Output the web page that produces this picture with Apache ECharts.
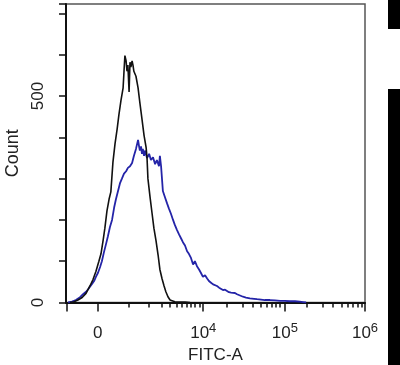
<!DOCTYPE html>
<html>
<head>
<meta charset="utf-8">
<script src="https://cdn.jsdelivr.net/npm/echarts@6/dist/echarts.min.js"></script>
<style>
html,body{margin:0;padding:0;background:#fff;}
#chart{width:400px;height:365px;}
</style>
</head>
<body>
<div id="chart"></div>
<script>
// Display channel (biexponential scale, 0..1000) and counts
var blackX = [13,27,40,54,67,80,90,100,110,117,124,130,137,144,150,157,164,171,177,184,191,194,197,201,204,207,211,214,217,221,224,227,234,241,247,254,261,268,271,274,281,288,294,301,308,314,321,328,334,341,348,354,364,381,398,415];
var blackY = [0,2,6,12,22,40,55,75,100,118,150,180,222,250,268,340,385,420,455,490,520,560,598,585,560,575,510,582,570,585,575,560,548,520,484,445,405,375,350,300,256,215,180,150,115,80,58,40,26,14,6,3,2,1,1,0];

var blueX = [7,20,33,47,57,67,74,80,87,94,100,107,114,120,127,134,140,147,154,161,167,174,181,187,194,201,207,214,221,227,234,241,244,247,251,254,257,261,264,271,278,284,291,298,304,311,314,318,324,331,338,344,351,358,364,371,378,385,391,398,405,411,418,425,431,438,445,451,458,465,472,478,485,492,498,505,512,518,525,532,538,545,552,558,565,572,582,592,602,615,629,639,652,665,682,699,716,732,749,766,782,793,803];
var blueY = [0,2,6,13,20,26,32,36,45,52,62,72,86,100,122,142,160,183,200,230,250,270,290,300,312,318,326,330,338,355,372,394,380,368,378,360,372,355,368,350,360,345,352,335,345,330,355,330,270,255,240,228,215,200,188,176,165,155,146,138,124,118,108,92,100,88,80,72,62,66,58,52,48,44,46,40,36,33,30,31,28,25,24,22,23,20,17,14,12,10,9,8,7,6,6,5,4,4,3,3,2,1,0];

var majorTicks = [2,106,459,732,1000];
var labelTicks = [106,459,732,1000];
var tickLabels = ['0','10|4','10|5','10|6'];
var minorTicks = [211,278,320,348,370,387,404,418,431,446,537,591,626,652,671,688,702,716,805,860,893,922,943,960,977,990];
var yLabels = {0:'0', 500:'500'};

function pair(xs, ys){ var o=[]; for(var i=0;i<xs.length;i++) o.push([xs[i],ys[i]]); return o; }

var font = 'Liberation Sans, Arial, sans-serif';
var chart = echarts.init(document.getElementById('chart'), null, {renderer:'canvas'});
chart.setOption({
  animation:false,
  backgroundColor:'#fff',
  grid:{left:66,top:4,width:299,height:298.5,show:true,borderColor:'#555',borderWidth:1.5,backgroundColor:'transparent',outerBoundsMode:'none',containLabel:false},
  xAxis:[{
    type:'value', min:0, max:1000, position:'bottom',
    name:'FITC-A', nameLocation:'middle', nameGap:44,
    nameTextStyle:{fontFamily:font,fontSize:17,color:'#222'},
    axisLine:{show:true,onZero:false,lineStyle:{color:'#111',width:2}},
    axisTick:{show:true,customValues:majorTicks,length:9,lineStyle:{color:'#111',width:1.5}},
    axisLabel:{show:true,customValues:labelTicks,margin:19,
      formatter:function(v){
        var i = labelTicks.indexOf(v); if(i<0) return '';
        var p = tickLabels[i].split('|');
        return p.length>1 ? '{b|'+p[0]+'}{s|'+p[1]+'}' : '{b|'+p[0]+'}';
      },
      rich:{
        b:{fontFamily:font,fontSize:17,lineHeight:20,color:'#222',verticalAlign:'bottom'},
        s:{fontFamily:font,fontSize:13,lineHeight:13,color:'#222',verticalAlign:'top'}
      }},
    splitLine:{show:false}
  },{
    type:'value', min:0, max:1000, position:'bottom', gridIndex:0,
    axisLine:{show:false,onZero:false},
    axisTick:{show:true,customValues:minorTicks,length:5,lineStyle:{color:'#111',width:1.5}},
    axisLabel:{show:false},
    splitLine:{show:false}
  }],
  yAxis:{
    type:'value', min:0, max:723, interval:100,
    name:'Count', nameLocation:'middle', nameGap:41, nameRotate:90,
    nameTextStyle:{fontFamily:font,fontSize:18,color:'#222'},
    axisLine:{show:true,lineStyle:{color:'#111',width:2}},
    axisTick:{show:true,length:7,lineStyle:{color:'#111',width:1.5}},
    axisLabel:{show:true,rotate:90,margin:19,fontFamily:font,fontSize:17,color:'#222',
      formatter:function(v){ return yLabels[v]!==undefined ? yLabels[v] : ''; }},
    splitLine:{show:false}
  },
  series:[
    {type:'line',data:pair(blueX,blueY),xAxisIndex:0,symbol:'none',lineStyle:{color:'#2424a8',width:1.8},z:2},
    {type:'line',data:pair(blackX,blackY),xAxisIndex:0,symbol:'none',lineStyle:{color:'#111',width:1.6},z:3}
  ],
  graphic:[
    {type:'rect',shape:{x:388,y:0,width:12,height:29},style:{fill:'#000'}},
    {type:'rect',shape:{x:388,y:89,width:12,height:276},style:{fill:'#000'}}
  ]
});
</script>
</body>
</html>
